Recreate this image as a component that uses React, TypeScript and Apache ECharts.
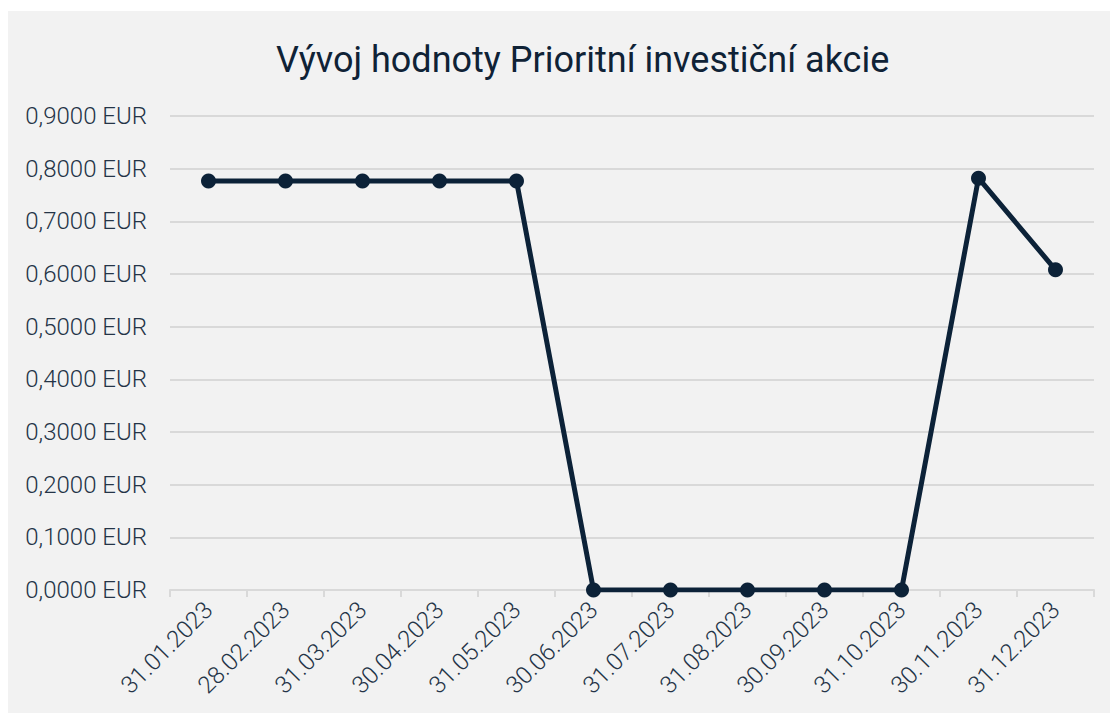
import React, { useEffect, useRef } from "react";
import * as echarts from "echarts";

const titleText = "Vývoj hodnoty Prioritní investiční akcie";
const categories = [
  "31.01.2023", "28.02.2023", "31.03.2023", "30.04.2023", "31.05.2023", "30.06.2023",
  "31.07.2023", "31.08.2023", "30.09.2023", "31.10.2023", "30.11.2023", "31.12.2023",
];
const values = [0.7765, 0.7765, 0.7765, 0.7765, 0.7765, 0, 0, 0, 0, 0, 0.782, 0.608];
const yMin = 0;
const yMax = 0.9;
const yInterval = 0.1;

export default function App() {
  const ref = useRef<HTMLDivElement>(null);
  useEffect(() => {
    const chart = echarts.init(ref.current!, null, { renderer: "svg" });
    chart.setOption({
      animation: false,
      backgroundColor: "#f2f2f2",
      title: {
        text: titleText,
        left: 263,
        top: 26,
        textStyle: { fontFamily: "Roboto", fontWeight: 400, fontSize: 36, color: "#0f2236" },
      },
      grid: { left: 162, right: 16, top: 105, bottom: 123 },
      xAxis: {
        type: "category",
        data: categories,
        boundaryGap: true,
        axisLine: { lineStyle: { color: "#d9d9d9", width: 2 } },
        axisTick: { show: true, length: 7, lineStyle: { color: "#d9d9d9", width: 2 } },
        axisLabel: {
          rotate: 45,
          margin: 16,
          interval: 0,
          fontFamily: "Roboto",
          fontWeight: 300,
          fontSize: 24,
          color: "#243447",
        },
      },
      yAxis: {
        type: "value",
        min: yMin,
        max: yMax,
        interval: yInterval,
        axisLine: { show: false },
        axisTick: { show: false },
        splitLine: { lineStyle: { color: "#d9d9d9", width: 2 } },
        axisLabel: {
          margin: 23,
          fontFamily: "Roboto",
          fontWeight: 300,
          fontSize: 24,
          color: "#243447",
          formatter: (v: number) => v.toFixed(4).replace(".", ",") + " EUR",
        },
      },
      series: [
        {
          type: "line",
          data: values,
          symbol: "circle",
          symbolSize: 15,
          lineStyle: { color: "#0c2238", width: 5 },
          itemStyle: { color: "#0c2238" },
        },
      ],
    });
    return () => chart.dispose();
  }, []);
  return (
    <div
      ref={ref}
      style={{ position: "absolute", left: 8, top: 11, width: 1102, height: 702 }}
    />
  );
}
